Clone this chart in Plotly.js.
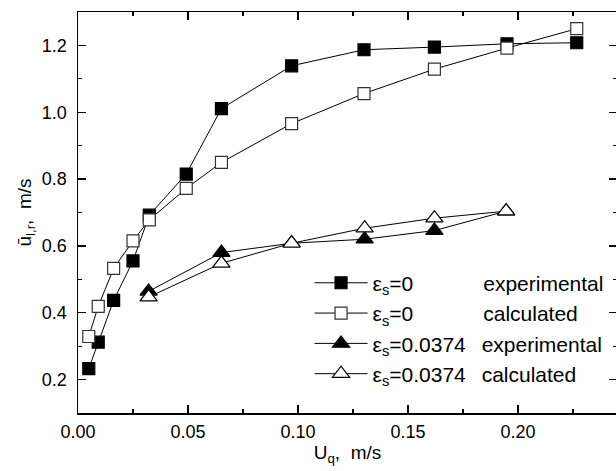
<!DOCTYPE html>
<html>
<head>
<meta charset="utf-8">
<script src="https://cdn.plot.ly/plotly-3.0.1.min.js"></script>
<style>
  html, body { margin: 0; padding: 0; overflow: hidden; background: #fff; }
  #chart { width: 619px; height: 471px; }
</style>
</head>
<body>
<div id="chart"></div>
<script>
// Superficial gas velocity U_q (m/s)
const xSq = [0.0049, 0.0092, 0.0162, 0.0250, 0.0324, 0.0492, 0.0652, 0.0971, 0.1300, 0.1620, 0.1950, 0.2267];
// eps_s = 0, experimental
const yExp0 = [0.233, 0.312, 0.437, 0.555, 0.692, 0.815, 1.011, 1.139, 1.187, 1.195, 1.205, 1.208];
// eps_s = 0, calculated
const yCalc0 = [0.329, 0.419, 0.533, 0.615, 0.678, 0.772, 0.850, 0.966, 1.056, 1.129, 1.192, 1.250];

const xTri = [0.0321, 0.0652, 0.0971, 0.1303, 0.1620, 0.1946];
// eps_s = 0.0374, experimental
const yExp1 = [0.464, 0.580, 0.608, 0.620, 0.646, 0.704];
// eps_s = 0.0374, calculated
const yCalc1 = [0.447, 0.548, 0.608, 0.653, 0.683, 0.704];

const nb = n => '\u00a0'.repeat(n);
const seriesNames = [
  "ε<sub>s</sub>=0" + nb(12) + "experimental",
  "ε<sub>s</sub>=0" + nb(12) + "calculated",
  "ε<sub>s</sub>=0.0374" + nb(2) + "\u2009experimental",
  "ε<sub>s</sub>=0.0374" + nb(2) + "\u2009calculated"
];

const lineStyle = {color: '#000', width: 1};
const traces = [
  {x: xSq, y: yExp0, name: seriesNames[0], mode: 'lines+markers', line: lineStyle,
   marker: {symbol: 'square', size: 12, color: '#000', line: {color: '#000', width: 1.2}}},
  {x: xSq, y: yCalc0, name: seriesNames[1], mode: 'lines+markers', line: lineStyle,
   marker: {symbol: 'square', size: 12, color: '#fff', line: {color: '#333', width: 1.2}}},
  {x: xTri, y: yExp1, name: seriesNames[2], mode: 'lines+markers', line: lineStyle,
   marker: {symbol: 'triangle-up', size: 15, color: '#000', line: {color: '#000', width: 1.2}}},
  {x: xTri, y: yCalc1, name: seriesNames[3], mode: 'lines+markers', line: lineStyle,
   marker: {symbol: 'triangle-up', size: 15, color: '#fff', line: {color: '#000', width: 1.2}}}
];

const font = {family: 'Arial, "Liberation Sans", sans-serif', color: '#000', size: 18};

const layout = {
  width: 619, height: 471,
  margin: {l: 78, r: 2, t: 12, b: 58},
  paper_bgcolor: '#fff', plot_bgcolor: '#fff',
  font: font,
  showlegend: true,
  legend: {
    x: 0.4296, y: 0.375, xanchor: 'left', yanchor: 'top',
    bgcolor: '#fff', borderwidth: 0,
    font: {family: font.family, size: 21, color: '#000'},
    itemwidth: 53, tracegroupgap: 0
  },
  xaxis: {
    type: 'linear',
    range: [0, 0.245], tick0: 0, dtick: 0.05, tickformat: '.2f',
    ticks: 'inside', ticklen: 8, tickwidth: 1.2, tickcolor: '#000',
    minor: {dtick: 0.025, ticks: 'inside', ticklen: 4, tickwidth: 1.2, tickcolor: '#000'},
    showline: true, linecolor: '#000', linewidth: 1.5, mirror: 'allticks',
    showgrid: false, zeroline: false,
    ticklabelstandoff: 2,
    title: {text: 'U<sub>q</sub>,\u00a0\u00a0m/s', font: {size: 19}, standoff: 0}
  },
  yaxis: {
    type: 'linear',
    range: [0.1, 1.3], tick0: 0.2, dtick: 0.2, tickformat: '.1f',
    ticks: 'inside', ticklen: 8, tickwidth: 1.2, tickcolor: '#000',
    minor: {dtick: 0.1, ticks: 'inside', ticklen: 4, tickwidth: 1.2, tickcolor: '#000'},
    showline: true, linecolor: '#000', linewidth: 1.5, mirror: 'allticks',
    showgrid: false, zeroline: false,
    ticklabelstandoff: 6,
    title: {text: 'ū<sub>l,r</sub>,\u00a0\u00a0m/s', font: {size: 19}, standoff: 5}
  }
};

Plotly.newPlot('chart', traces, layout, {displayModeBar: false, staticPlot: true});
</script>
</body>
</html>
